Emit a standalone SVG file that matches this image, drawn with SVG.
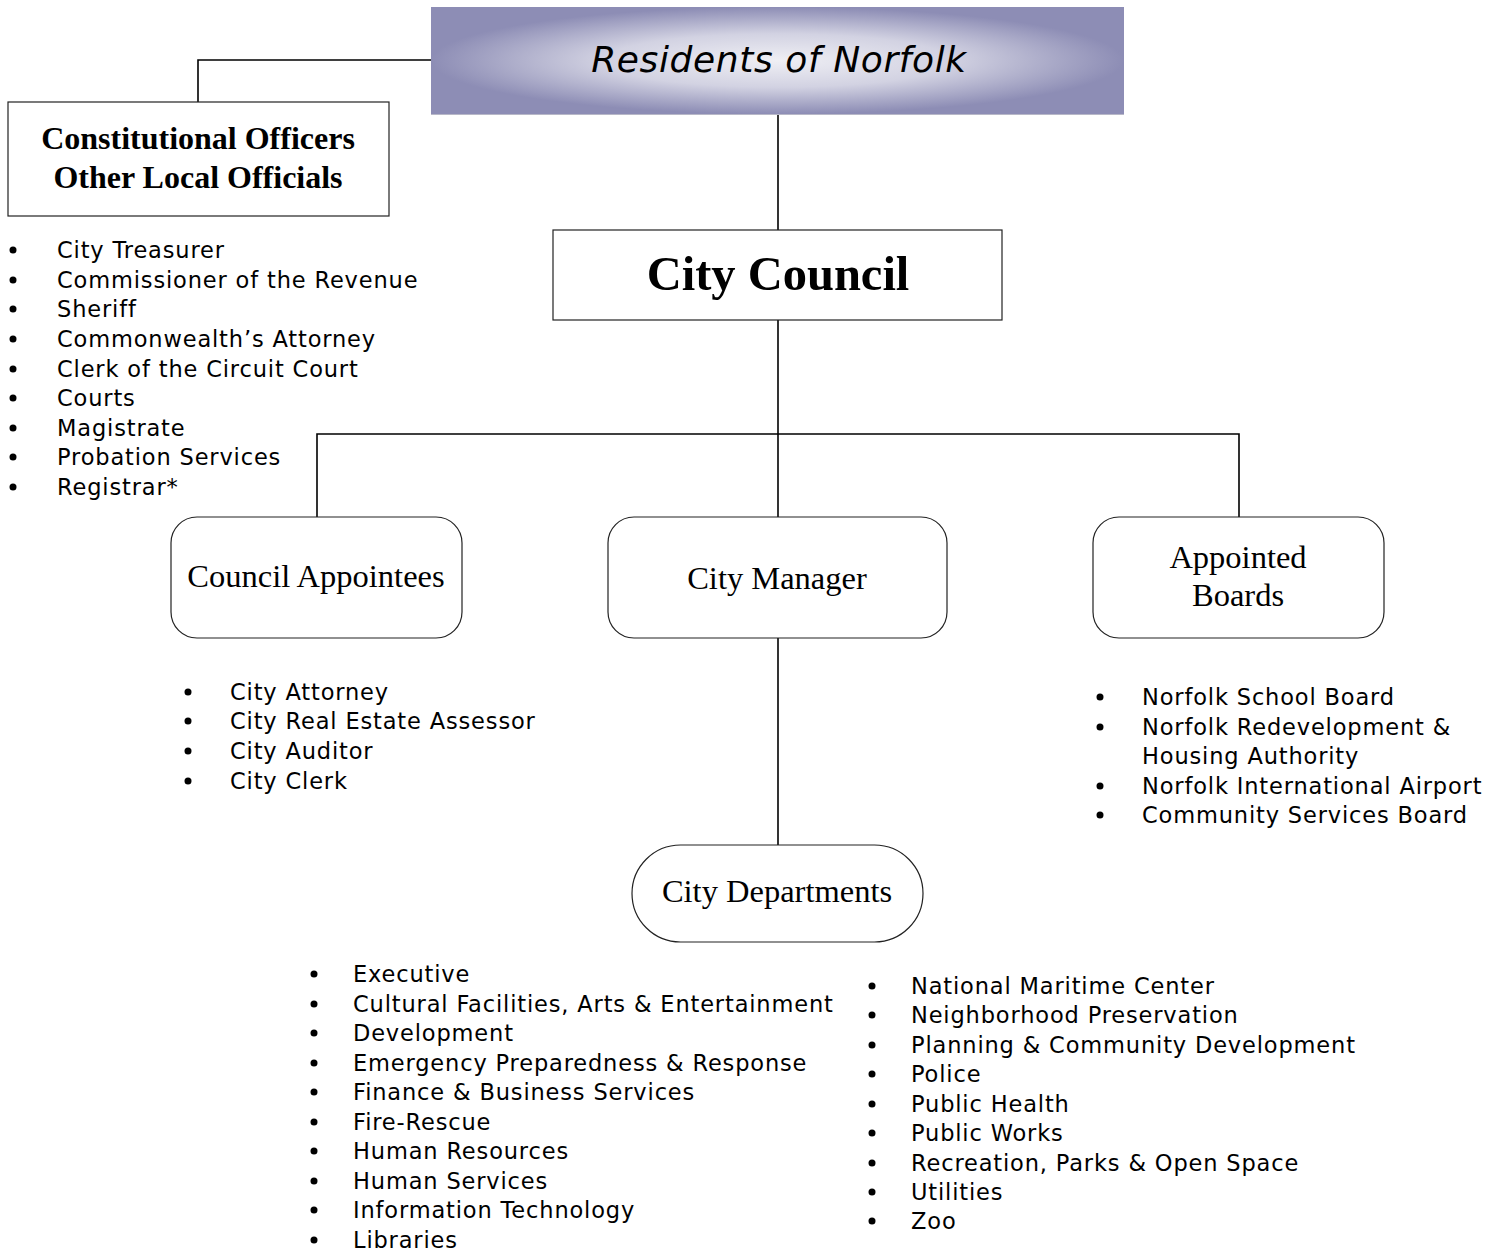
<svg xmlns="http://www.w3.org/2000/svg" width="1502" height="1251" viewBox="0 0 1502 1251">
<defs>
<radialGradient id="resGrad" cx="0.5" cy="0.5" r="0.5">
<stop offset="0" stop-color="#efeff4"/>
<stop offset="0.5" stop-color="#d2d2e2"/>
<stop offset="1" stop-color="#8d8db5"/>
</radialGradient>
<style>
.box{fill:#ffffff;stroke:#222;stroke-width:1.2}
.conn{stroke:#000;stroke-width:1.6;fill:none}
.serif{font-family:"Liberation Serif","Times New Roman",serif;fill:#000}
.lst{font-family:"DejaVu Sans",Verdana,sans-serif;font-size:22.5px;letter-spacing:0.85px;fill:#000}
.bul{fill:#000}
</style>
</defs>
<rect width="1502" height="1251" fill="#ffffff"/>
<g id="connectors">
<path class="conn" d="M431 60 H198 V102"/>
<path class="conn" d="M778 114 V230"/>
<path class="conn" d="M778 320 V517"/>
<path class="conn" d="M317 517 V434 H1239 V517"/>
<path class="conn" d="M778 638 V845"/>
</g>
<g id="residents">
<rect x="431" y="7" width="693" height="107" fill="url(#resGrad)"/>
<line x1="431" y1="114.5" x2="1124" y2="114.5" stroke="#b8b8c8" stroke-width="1"/>
<text x="779" y="72" text-anchor="middle" font-family="DejaVu Sans,Verdana,sans-serif" font-style="italic" font-size="36" letter-spacing="0.6">Residents of Norfolk</text>
</g>
<g id="constitutional">
<rect class="box" x="8" y="102" width="381" height="114"/>
<text class="serif" x="198" y="149" text-anchor="middle" font-size="32" font-weight="bold">Constitutional Officers</text>
<text class="serif" x="198" y="188" text-anchor="middle" font-size="32" font-weight="bold">Other Local Officials</text>
</g>
<g id="constitutional-list">
<circle class="bul" cx="13" cy="250" r="3.5"/><text class="lst" x="57" y="258">City Treasurer</text>
<circle class="bul" cx="13" cy="280" r="3.5"/><text class="lst" x="57" y="288">Commissioner of the Revenue</text>
<circle class="bul" cx="13" cy="309" r="3.5"/><text class="lst" x="57" y="317">Sheriff</text>
<circle class="bul" cx="13" cy="339" r="3.5"/><text class="lst" x="57" y="347">Commonwealth’s Attorney</text>
<circle class="bul" cx="13" cy="369" r="3.5"/><text class="lst" x="57" y="377">Clerk of the Circuit Court</text>
<circle class="bul" cx="13" cy="398" r="3.5"/><text class="lst" x="57" y="406">Courts</text>
<circle class="bul" cx="13" cy="428" r="3.5"/><text class="lst" x="57" y="436">Magistrate</text>
<circle class="bul" cx="13" cy="457" r="3.5"/><text class="lst" x="57" y="465">Probation Services</text>
<circle class="bul" cx="13" cy="487" r="3.5"/><text class="lst" x="57" y="495">Registrar*</text>
</g>
<g id="city-council">
<rect class="box" x="553" y="230" width="449" height="90"/>
<text class="serif" x="778" y="290" text-anchor="middle" font-size="48.5" font-weight="bold">City Council</text>
</g>
<g id="council-appointees">
<rect class="box" x="171" y="517" width="291" height="121" rx="26" ry="26"/>
<text class="serif" x="316" y="587" text-anchor="middle" font-size="32.5">Council Appointees</text>
</g>
<g id="city-manager">
<rect class="box" x="608" y="517" width="339" height="121" rx="26" ry="26"/>
<text class="serif" x="777" y="589" text-anchor="middle" font-size="32.5">City Manager</text>
</g>
<g id="appointed-boards">
<rect class="box" x="1093" y="517" width="291" height="121" rx="26" ry="26"/>
<text class="serif" x="1238" y="568" text-anchor="middle" font-size="32.5">Appointed</text>
<text class="serif" x="1238" y="606" text-anchor="middle" font-size="32.5">Boards</text>
</g>
<g id="appointees-list">
<circle class="bul" cx="188" cy="692" r="3.5"/><text class="lst" x="230" y="700">City Attorney</text>
<circle class="bul" cx="188" cy="721" r="3.5"/><text class="lst" x="230" y="729">City Real Estate Assessor</text>
<circle class="bul" cx="188" cy="751" r="3.5"/><text class="lst" x="230" y="759">City Auditor</text>
<circle class="bul" cx="188" cy="781" r="3.5"/><text class="lst" x="230" y="789">City Clerk</text>
</g>
<g id="boards-list">
<circle class="bul" cx="1100" cy="697" r="3.5"/><text class="lst" x="1142" y="705">Norfolk School Board</text>
<circle class="bul" cx="1100" cy="727" r="3.5"/><text class="lst" x="1142" y="735">Norfolk Redevelopment &amp;</text>
<text class="lst" x="1142" y="764">Housing Authority</text>
<circle class="bul" cx="1100" cy="786" r="3.5"/><text class="lst" x="1142" y="794">Norfolk International Airport</text>
<circle class="bul" cx="1100" cy="815" r="3.5"/><text class="lst" x="1142" y="823">Community Services Board</text>
</g>
<g id="city-departments">
<rect class="box" x="632" y="845" width="291" height="97" rx="48.5" ry="48.5"/>
<text class="serif" x="777" y="902" text-anchor="middle" font-size="32.5">City Departments</text>
</g>
<g id="departments-list-left">
<circle class="bul" cx="314" cy="974" r="3.5"/><text class="lst" x="353" y="982">Executive</text>
<circle class="bul" cx="314" cy="1004" r="3.5"/><text class="lst" x="353" y="1012">Cultural Facilities, Arts &amp; Entertainment</text>
<circle class="bul" cx="314" cy="1033" r="3.5"/><text class="lst" x="353" y="1041">Development</text>
<circle class="bul" cx="314" cy="1063" r="3.5"/><text class="lst" x="353" y="1071">Emergency Preparedness &amp; Response</text>
<circle class="bul" cx="314" cy="1092" r="3.5"/><text class="lst" x="353" y="1100">Finance &amp; Business Services</text>
<circle class="bul" cx="314" cy="1122" r="3.5"/><text class="lst" x="353" y="1130">Fire-Rescue</text>
<circle class="bul" cx="314" cy="1151" r="3.5"/><text class="lst" x="353" y="1159">Human Resources</text>
<circle class="bul" cx="314" cy="1181" r="3.5"/><text class="lst" x="353" y="1189">Human Services</text>
<circle class="bul" cx="314" cy="1210" r="3.5"/><text class="lst" x="353" y="1218">Information Technology</text>
<circle class="bul" cx="314" cy="1240" r="3.5"/><text class="lst" x="353" y="1248">Libraries</text>
</g>
<g id="departments-list-right">
<circle class="bul" cx="872" cy="986" r="3.5"/><text class="lst" x="911" y="994">National Maritime Center</text>
<circle class="bul" cx="872" cy="1015" r="3.5"/><text class="lst" x="911" y="1023">Neighborhood Preservation</text>
<circle class="bul" cx="872" cy="1045" r="3.5"/><text class="lst" x="911" y="1053">Planning &amp; Community Development</text>
<circle class="bul" cx="872" cy="1074" r="3.5"/><text class="lst" x="911" y="1082">Police</text>
<circle class="bul" cx="872" cy="1104" r="3.5"/><text class="lst" x="911" y="1112">Public Health</text>
<circle class="bul" cx="872" cy="1133" r="3.5"/><text class="lst" x="911" y="1141">Public Works</text>
<circle class="bul" cx="872" cy="1163" r="3.5"/><text class="lst" x="911" y="1171">Recreation, Parks &amp; Open Space</text>
<circle class="bul" cx="872" cy="1192" r="3.5"/><text class="lst" x="911" y="1200">Utilities</text>
<circle class="bul" cx="872" cy="1221" r="3.5"/><text class="lst" x="911" y="1229">Zoo</text>
</g>
</svg>
